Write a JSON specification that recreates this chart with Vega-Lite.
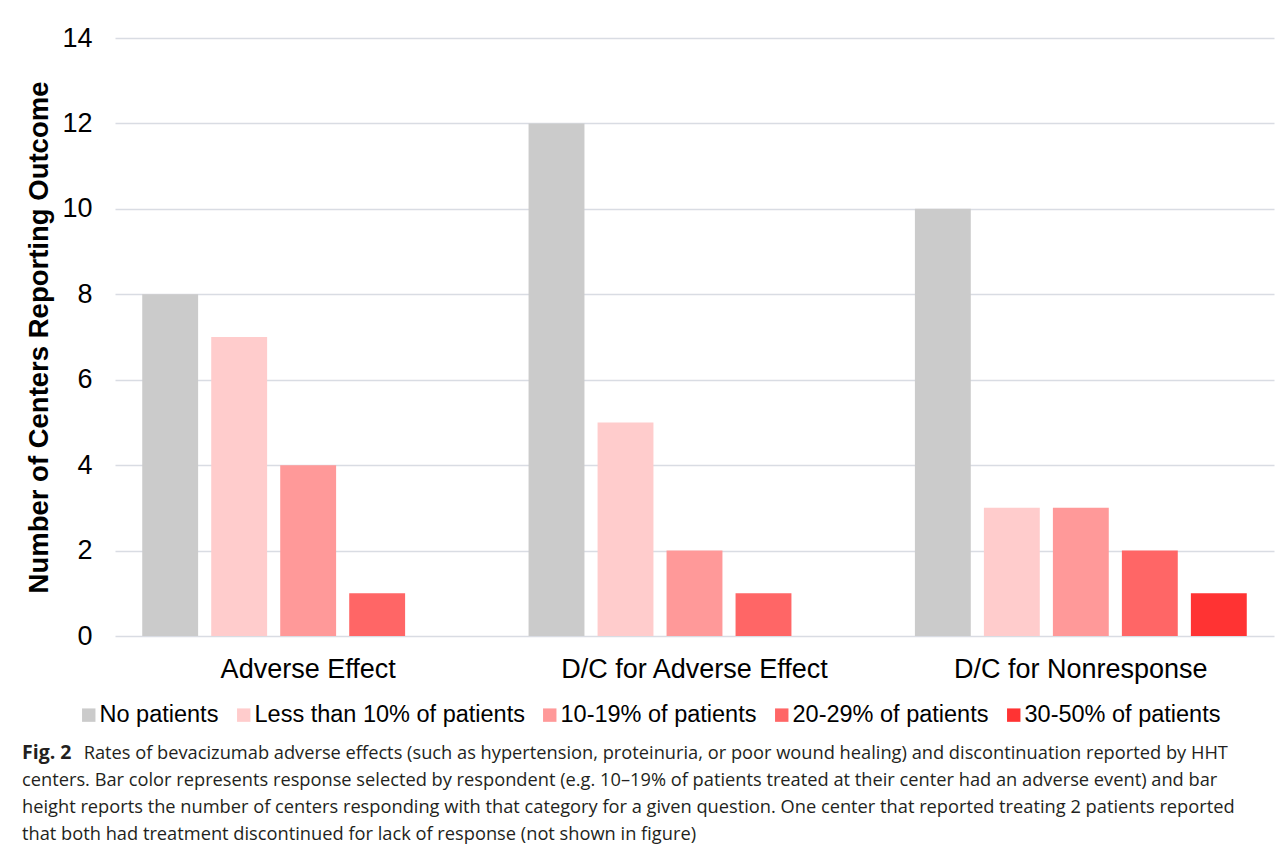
{
  "$schema": "https://vega.github.io/schema/vega-lite/v6.json",
  "width": 1159,
  "height": 598,
  "autosize": {"type": "none"},
  "padding": {"left": 115, "top": 38, "right": 7, "bottom": 216},
  "background": "white",
  "config": {"view": {"stroke": null}},
  "title": {
    "text": "Fig. 2",
    "subtitle": [
      "\u200b\u00a0\u00a0\u00a0\u00a0\u00a0\u00a0\u00a0\u00a0\u00a0\u00a0\u00a0\u00a0\u00a0Rates of bevacizumab adverse effects (such as hypertension, proteinuria, or poor wound healing) and discontinuation reported by HHT",
      "centers. Bar color represents response selected by respondent (e.g. 10–19% of patients treated at their center had an adverse event) and bar",
      "height reports the number of centers responding with that category for a given question. One center that reported treating 2 patients reported",
      "that both had treatment discontinued for lack of response (not shown in figure)"
    ],
    "orient": "bottom",
    "anchor": "start",
    "frame": "group",
    "dx": -93,
    "offset": 17,
    "font": "Open Sans",
    "fontSize": 19.5,
    "fontWeight": "bold",
    "color": "#231f20",
    "subtitleFont": "Open Sans",
    "subtitleFontSize": 18.25,
    "subtitleFontWeight": "normal",
    "subtitleColor": "#231f20",
    "subtitleLineHeight": 27,
    "subtitlePadding": -19
  },
  "data": {
    "values": [
      {"question": "Adverse Effect", "category": "No patients", "count": 8},
      {"question": "Adverse Effect", "category": "Less than 10% of patients", "count": 7},
      {"question": "Adverse Effect", "category": "10-19% of patients", "count": 4},
      {"question": "Adverse Effect", "category": "20-29% of patients", "count": 1},
      {"question": "Adverse Effect", "category": "30-50% of patients", "count": 0},
      {"question": "D/C for Adverse Effect", "category": "No patients", "count": 12},
      {"question": "D/C for Adverse Effect", "category": "Less than 10% of patients", "count": 5},
      {"question": "D/C for Adverse Effect", "category": "10-19% of patients", "count": 2},
      {"question": "D/C for Adverse Effect", "category": "20-29% of patients", "count": 1},
      {"question": "D/C for Adverse Effect", "category": "30-50% of patients", "count": 0},
      {"question": "D/C for Nonresponse", "category": "No patients", "count": 10},
      {"question": "D/C for Nonresponse", "category": "Less than 10% of patients", "count": 3},
      {"question": "D/C for Nonresponse", "category": "10-19% of patients", "count": 3},
      {"question": "D/C for Nonresponse", "category": "20-29% of patients", "count": 2},
      {"question": "D/C for Nonresponse", "category": "30-50% of patients", "count": 1}
    ]
  },
  "mark": {"type": "bar"},
  "encoding": {
    "x": {
      "field": "question",
      "type": "nominal",
      "sort": ["Adverse Effect", "D/C for Adverse Effect", "D/C for Nonresponse"],
      "scale": {"paddingInner": 0.141, "paddingOuter": 0.0705},
      "axis": {
        "title": null,
        "labelAngle": 0,
        "labelFont": "Liberation Sans",
        "labelFontSize": 27,
        "labelColor": "#000000",
        "labelPadding": 20,
        "labelLimit": 600,
        "ticks": false,
        "domain": false,
        "grid": false
      }
    },
    "xOffset": {
      "field": "category",
      "sort": ["No patients", "Less than 10% of patients", "10-19% of patients", "20-29% of patients", "30-50% of patients"],
      "scale": {"paddingInner": 0.19, "paddingOuter": 0}
    },
    "y": {
      "field": "count",
      "type": "quantitative",
      "scale": {"domain": [0, 14]},
      "axis": {
        "values": [0, 2, 4, 6, 8, 10, 12, 14],
        "title": "Number of Centers Reporting Outcome",
        "titleFont": "Liberation Sans",
        "titleFontSize": 27.5,
        "titleFontWeight": "bold",
        "titleColor": "#000000",
        "titlePadding": 8,
        "labelFont": "Liberation Sans",
        "labelFontSize": 27,
        "labelColor": "#000000",
        "labelPadding": 23,
        "ticks": false,
        "domain": false,
        "grid": true,
        "gridColor": "#d9dce3",
        "gridWidth": 1.5
      }
    },
    "color": {
      "field": "category",
      "type": "nominal",
      "sort": ["No patients", "Less than 10% of patients", "10-19% of patients", "20-29% of patients", "30-50% of patients"],
      "scale": {
        "domain": ["No patients", "Less than 10% of patients", "10-19% of patients", "20-29% of patients", "30-50% of patients"],
        "range": ["#cbcbcb", "#ffcccc", "#ff9999", "#ff6666", "#ff3333"]
      },
      "legend": {
        "title": null,
        "orient": "none",
        "direction": "horizontal",
        "legendX": -38,
        "legendY": 665,
        "symbolType": "square",
        "symbolSize": 180,
        "symbolStrokeWidth": 0,
        "symbolOpacity": 1,
        "labelFont": "Liberation Sans",
        "labelFontSize": 23.5,
        "labelColor": "#000000",
        "labelOffset": -1,
        "columnPadding": 13,
        "labelLimit": 400
      }
    }
  }
}
